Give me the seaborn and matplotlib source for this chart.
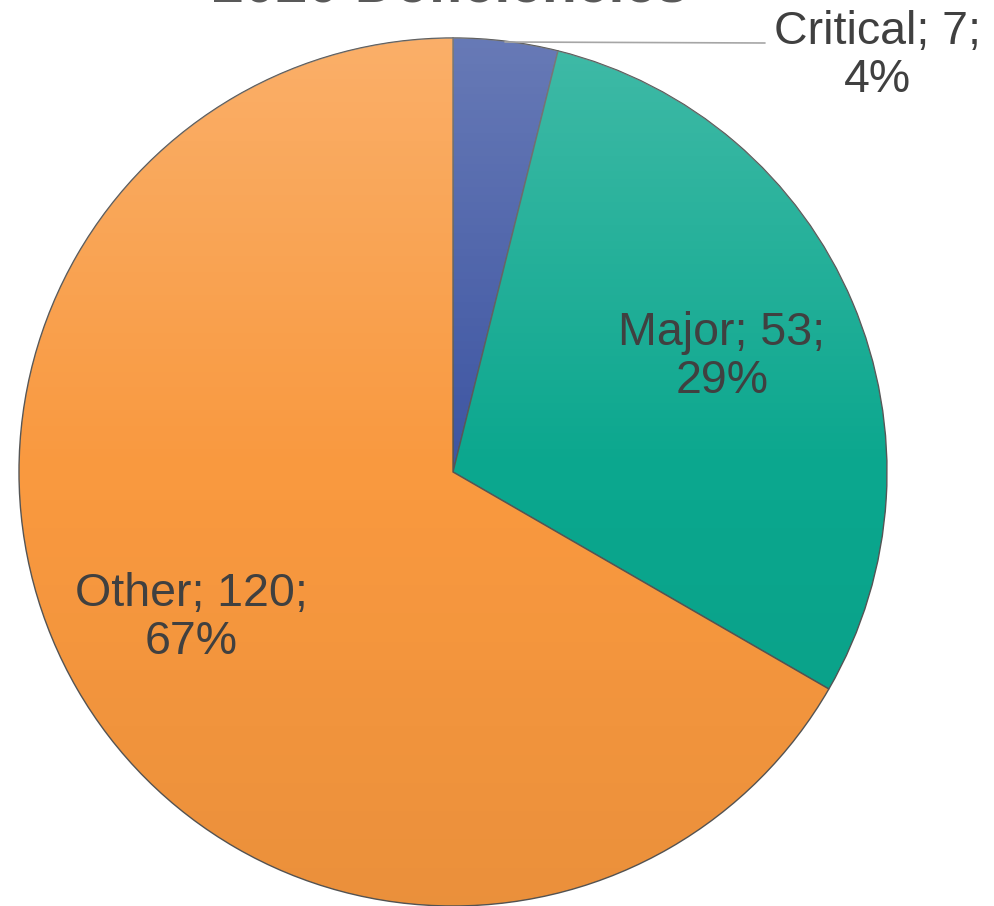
import numpy as np
import matplotlib
matplotlib.use("Agg")
import matplotlib.pyplot as plt
import seaborn as sns
from matplotlib.patches import Circle

# data
categories = ["Critical", "Major", "Other"]
counts = [7, 53, 120]
percents = ["4%", "29%", "67%"]
slice_colors = ["#3d55a2", "#0ba78e", "#f9993f"]

sns.set_theme(style="white")
plt.rcParams["font.family"] = ["Liberation Sans", "DejaVu Sans"]

W, H = 994, 906
fig = plt.figure(figsize=(W / 100, H / 100), dpi=100)
ax = fig.add_axes([0, 0, 1, 1])

cx, cy, r = 453, H - 472, 434

wedges, _ = ax.pie(counts, startangle=90, counterclock=False,
                   colors=slice_colors, center=(cx, cy), radius=r,
                   wedgeprops=dict(edgecolor="#555555", linewidth=1.0),
                   frame=True)
ax.set_xlim(0, W)
ax.set_ylim(0, H)
ax.set_aspect("equal")
ax.axis("off")

# soft vertical shading so the slices look lit from above
grad = np.zeros((256, 1, 4))
t = np.linspace(0, 1, 256)
grad[:, 0, :3] = np.where(t[:, None] < 0.5, 1.0, 0.0)
grad[:, 0, 3] = np.where(t < 0.5, 0.22 * (0.5 - t) * 2, 0.06 * (t - 0.5) * 2)
im = ax.imshow(grad, extent=(cx - r, cx + r, cy - r, cy + r),
               aspect="auto", zorder=3, interpolation="bilinear")
clip = Circle((cx, cy), r, transform=ax.transData)
im.set_clip_path(clip)

txt = "#404040"
fs = 33.5
labels = [f"{c}; {n};\n{p}" for c, n, p in zip(categories, counts, percents)]

ax.text(877, H - 56, labels[0], ha="center", va="center", fontsize=fs,
        color=txt, linespacing=1.1, zorder=5)
ax.text(722, H - 357, labels[1], ha="center", va="center", fontsize=fs,
        color=txt, linespacing=1.1, zorder=5)
ax.text(191, H - 618, labels[2], ha="center", va="center", fontsize=fs,
        color=txt, linespacing=1.1, zorder=5)

# leader line for the small slice
ax.plot([505, 765], [H - 42, H - 43], color="#a6a6a6", lw=1.2, zorder=4)

# title, cut off by the top edge as in the source image
ax.text(450, H - 1, "2020 Deficiencies", ha="center", va="baseline",
        fontsize=41, fontweight="bold", color="#595959", zorder=5, clip_on=False)

fig.savefig("out.png", dpi=100, facecolor="white")
